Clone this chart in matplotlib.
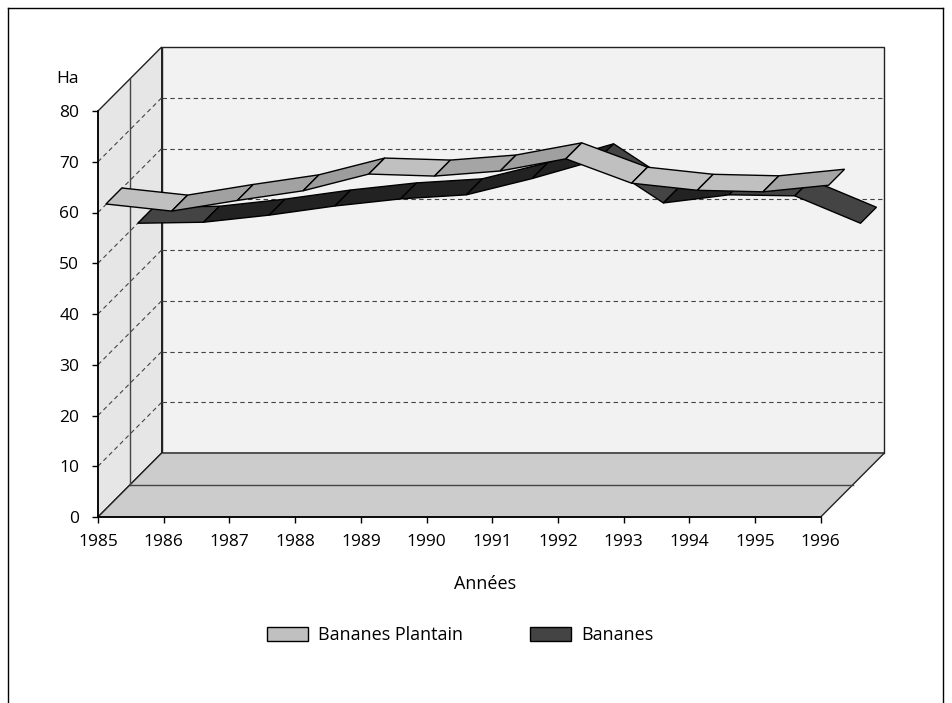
import numpy as np
import matplotlib.pyplot as plt
from matplotlib.patches import Polygon, Rectangle
from matplotlib.lines import Line2D

# données (hectares)
years = list(range(1985, 1997))
plantain = [60.1, 58.7, 60.8, 62.7, 66.0, 65.6, 66.6, 69.0, 64.2, 62.8, 62.5, 63.8]
bananes = [50.0, 50.2, 51.6, 53.4, 54.8, 55.6, 58.8, 62.5, 54.0, 55.6, 55.4, 50.0]
series_names = ['Bananes Plantain', 'Bananes']
series_colors = ['#c0c0c0', '#444444']
y_ticks = list(range(0, 90, 10))

plt.rcParams['font.family'] = ['Open Sans', 'DejaVu Sans']

W, H = 952, 703
fig = plt.figure(figsize=(W / 100, H / 100), dpi=100)
fig.patch.set_facecolor('white')

# plan avant du graphique 3D
x0, x1 = 98, 820.7
y0, y1 = 517, 111
ax = fig.add_axes([x0 / W, (H - y0) / H, (x1 - x0) / W, (y0 - y1) / H])
ax.set_facecolor('none')
n = len(years)
ax.set_xlim(0, n - 1)
ax.set_ylim(0, 80)

# vecteur de profondeur (en unités de données)
px_x = (x1 - x0) / (n - 1)
px_y = (y0 - y1) / 80
dX = 63.7 / px_x
dY = 64 / px_y


def shift(x, y, f):
    return x + f * dX, y + f * dY


# parois
back = Polygon([(dX, dY), (n - 1 + dX, dY), (n - 1 + dX, 80 + dY), (dX, 80 + dY)],
               closed=True, facecolor='#f2f2f2', edgecolor='#222222', lw=1.0,
               clip_on=False, zorder=1)
left = Polygon([(0, 0), (dX, dY), (dX, 80 + dY), (0, 80)], closed=True,
               facecolor='#e6e6e6', edgecolor='#222222', lw=1.0, clip_on=False, zorder=1)
floor = Polygon([(0, 0), (n - 1, 0), (n - 1 + dX, dY), (dX, dY)], closed=True,
                facecolor='#cccccc', edgecolor='#222222', lw=1.0, clip_on=False, zorder=1)
for p in (back, left, floor):
    ax.add_patch(p)

# lignes de séparation à mi-profondeur
ax.plot([0.5 * dX, n - 1 + 0.5 * dX], [0.5 * dY, 0.5 * dY], color='#444444', lw=1.0,
        clip_on=False, zorder=2)
ax.plot([0.5 * dX, 0.5 * dX], [0.5 * dY, 80 + 0.5 * dY], color='#444444', lw=1.0,
        clip_on=False, zorder=2)

# quadrillage
for v in y_ticks[1:-1]:
    ax.plot([dX, n - 1 + dX], [v + dY, v + dY], color='#444444', lw=0.8,
            ls=(0, (4, 3)), clip_on=False, zorder=2)
    ax.plot([0, dX], [v, v + dY], color='#444444', lw=0.8,
            ls=(0, (4, 3)), clip_on=False, zorder=2)


def segment_color(base, slope, dark):
    c = np.array(plt.matplotlib.colors.to_rgb(base))
    if slope > 0.03:
        if dark:
            f = 0.5
        else:
            f = 0.88 - 0.25 * min(slope, 0.5)
        c = c * f
    return c


def ribbon(values, front, back_f, base, dark, z):
    xs = np.arange(n)
    vals = np.array(values)
    for i in range(n - 1):
        xa, ya = shift(xs[i], vals[i], front)
        xb, yb = shift(xs[i + 1], vals[i + 1], front)
        xc, yc = shift(xs[i + 1], vals[i + 1], back_f)
        xd, yd = shift(xs[i], vals[i], back_f)
        slope = (vals[i + 1] - vals[i]) * px_y / px_x
        poly = Polygon([(xa, ya), (xb, yb), (xc, yc), (xd, yd)], closed=True,
                       facecolor=segment_color(base, slope, dark), edgecolor='black',
                       lw=1.0, clip_on=False, zorder=z)
        ax.add_patch(poly)


ribbon(bananes, 0.625, 0.875, series_colors[1], True, 3)
ribbon(plantain, 0.125, 0.375, series_colors[0], False, 4)

# axes
for s in ('top', 'right'):
    ax.spines[s].set_visible(False)
for s in ('left', 'bottom'):
    ax.spines[s].set_linewidth(1.2)
    ax.spines[s].set_zorder(5)
ax.set_xticks(range(n))
ax.set_xticklabels([str(y) for y in years])
ax.set_yticks(y_ticks)
ax.set_yticklabels([str(v) for v in y_ticks])
ax.tick_params(direction='out', length=4.5, width=1.0, labelsize=12.5)
ax.tick_params(axis='y', pad=9)
ax.tick_params(axis='x', pad=8)

fig.text(68 / W, 1 - 79 / H, 'Ha', ha='center', va='center', fontsize=12.5)
fig.text(485 / W, 1 - 584 / H, 'Années', ha='center', va='center', fontsize=13)

# légende
lx = [267, 530]
for i, name in enumerate(series_names):
    fig.add_artist(Rectangle((lx[i] / W, 1 - 641 / H), 41 / W, 14 / H,
                             transform=fig.transFigure, facecolor=series_colors[i],
                             edgecolor='black', lw=1.0))
    fig.text((lx[i] + 51) / W, 1 - 635 / H, name, ha='left', va='center', fontsize=13)

# cadre
for xs_, ys_ in [([8, 8], [703, 8]), ([8, 943], [8, 8]), ([943, 943], [8, 703])]:
    fig.add_artist(Line2D([x / W for x in xs_], [1 - y / H for y in ys_],
                          transform=fig.transFigure, color='black', lw=1.0))

fig.savefig('out.png', dpi=100)
